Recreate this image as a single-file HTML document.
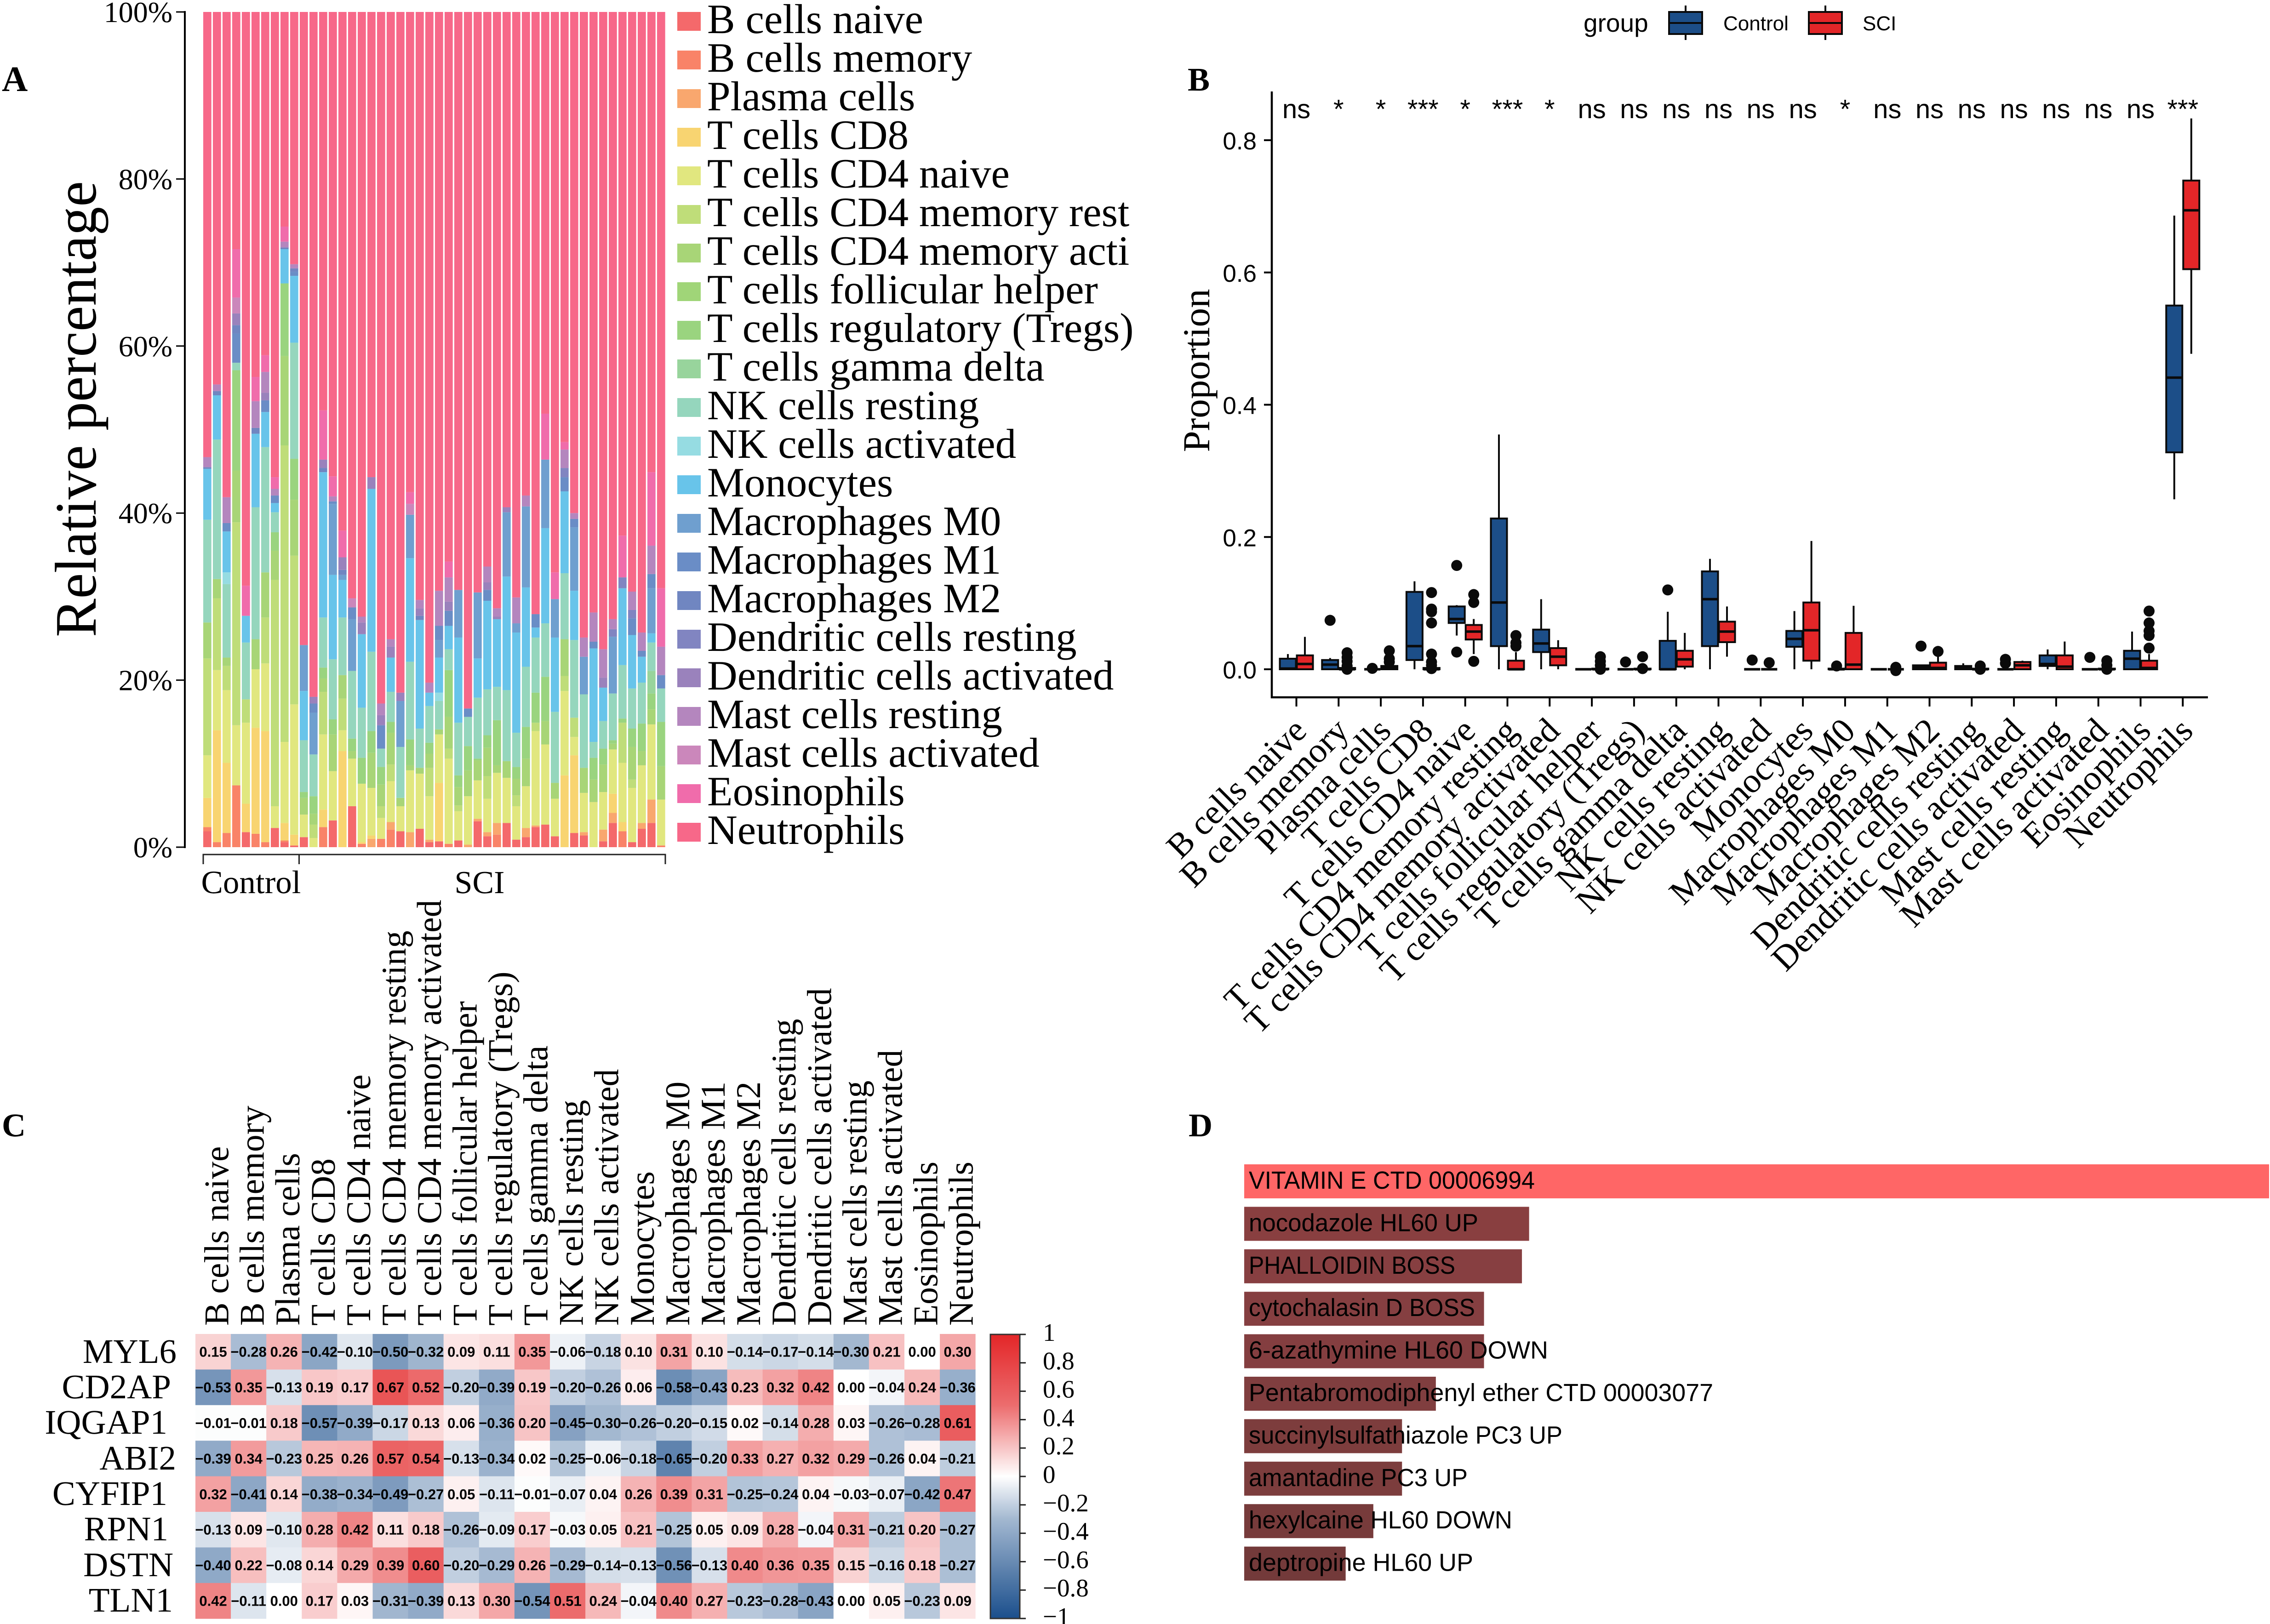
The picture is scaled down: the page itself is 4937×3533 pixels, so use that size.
<!DOCTYPE html>
<html lang="en">
<head>
<meta charset="utf-8">
<title>Immune infiltration figure</title>
<style>
html,body{margin:0;padding:0;background:#fff;width:4937px;height:3533px;overflow:hidden}
svg{position:absolute;left:0;top:0;display:block}
.serif{font-family:"Liberation Serif",serif}
.sans{font-family:"Liberation Sans",sans-serif}
text{fill:#000;text-rendering:geometricPrecision}
</style>
</head>
<body>
<svg id="fig" xmlns="http://www.w3.org/2000/svg" width="4937" height="3533" viewBox="0 0 4937 3533">
  <rect x="0" y="0" width="4937" height="3533" fill="#fff"/>

  <text class="serif" font-weight="bold" font-size="78" x="4" y="198">A</text>
  <text class="serif" font-weight="bold" font-size="72" x="2583" y="197">B</text>
  <text class="serif" font-weight="bold" font-size="72" x="4" y="2472">C</text>
  <text class="serif" font-weight="bold" font-size="72" x="2585" y="2472">D</text>

  <g id="panelA">
    <text class="serif" font-size="128" transform="translate(208,890) rotate(-90)" text-anchor="middle" textLength="992" lengthAdjust="spacingAndGlyphs">Relative percentage</text>
    <text class="serif" font-size="71" x="546" y="1943" text-anchor="middle">Control</text>
    <text class="serif" font-size="70" x="1043" y="1943" text-anchor="middle">SCI</text>
  </g>

  <g id="panelB">
    <text class="serif" font-size="83" transform="translate(2630,806) rotate(-90)" text-anchor="middle">Proportion</text>
    <text class="sans" font-size="55" x="3444" y="69">group</text>
    <text class="sans" font-size="44" x="3748" y="66">Control</text>
    <text class="sans" font-size="44" x="4051" y="66">SCI</text>
    <g stroke="#0a0a0a" stroke-width="4">
      <line x1="3666" x2="3666" y1="12" y2="87"/>
      <rect x="3630" y="26" width="72" height="48" fill="#1c4e88"/>
      <line x1="3630" x2="3702" y1="50" y2="50"/>
    </g>
    <g stroke="#0a0a0a" stroke-width="4">
      <line x1="3970" x2="3970" y1="12" y2="87"/>
      <rect x="3934" y="26" width="72" height="48" fill="#e32628"/>
      <line x1="3934" x2="4006" y1="50" y2="50"/>
    </g>
  </g>

  <g id="panelC">
    <g class="serif" font-size="75" text-anchor="end">
      <text x="384" y="2965">MYL6</text>
      <text x="372" y="3042">CD2AP</text>
      <text x="364" y="3119">IQGAP1</text>
      <text x="383" y="3197">ABI2</text>
      <text x="364" y="3274">CYFIP1</text>
      <text x="366" y="3351">RPN1</text>
      <text x="377" y="3429">DSTN</text>
      <text x="376" y="3506">TLN1</text>
    </g>
  </g>

  <g id="panelD"></g>
</svg>

<script>
/* ---------- shared category names ---------- */
const legendNames = ["B cells naive","B cells memory","Plasma cells","T cells CD8","T cells CD4 naive","T cells CD4 memory rest","T cells CD4 memory acti","T cells follicular helper","T cells regulatory (Tregs)","T cells gamma delta","NK cells resting","NK cells activated","Monocytes","Macrophages M0","Macrophages M1","Macrophages M2","Dendritic cells resting","Dendritic cells activated","Mast cells resting","Mast cells activated","Eosinophils","Neutrophils"];
const cellTypes = ["B cells naive","B cells memory","Plasma cells","T cells CD8","T cells CD4 naive","T cells CD4 memory resting","T cells CD4 memory activated","T cells follicular helper","T cells regulatory (Tregs)","T cells gamma delta","NK cells resting","NK cells activated","Monocytes","Macrophages M0","Macrophages M1","Macrophages M2","Dendritic cells resting","Dendritic cells activated","Mast cells resting","Mast cells activated","Eosinophils","Neutrophils"];
const stackColors = ["#f4696b","#f98368","#f9a76e","#f8d471","#e1e77f","#bfdd79","#a8d577","#a0d578","#9ad47f","#98d49c","#95d6bd","#96dce2","#68c4ea","#6f9fcf","#6a8dc6","#7086c1","#8185c1","#9a82bc","#b486be","#cb87bb","#f06cab","#f76889"];

/* ---------- panel A data: pairs of (cell type index, cumulative percent at segment top), one row per sample ---------- */
const controlSampleCount = 10;
const percentTicks = [0,20,40,60,80,100];
const sampleStacks = [
[0,1.9,1,2.4,3,5.9,4,11,5,22.6,6,26.9,10,39.2,12,45.3,15,45.5,18,46.7,21,100],
[1,.6,3,14,4,21.2,5,29.8,6,32.1,10,48.8,12,54.1,15,54.6,18,55.4,21,100],
[1,1.7,3,10.1,4,18.8,5,21.7,6,22.7,10,31.5,11,32.9,12,37.8,14,38.8,18,41.9,21,100],
[1,7.4,4,14.6,5,38.9,6,45.1,8,57.1,10,58,14,61.5,15,62.5,17,63.9,19,65.8,20,71.6,21,100],
[0,1.8,3,5.2,4,14.9,5,17.7,10,24.5,12,27.7,20,31.3,21,100],
[1,1.6,3,14.3,4,21.3,6,24.9,10,40.7,12,49.5,15,50.2,18,53.4,20,56.3,21,100],
[1,.6,3,13.9,4,22,5,27.5,6,32.9,10,47.9,12,52.1,14,53.5,17,54.4,18,56.9,20,58.9,21,100],
[0,2.3,4,4.9,5,32,6,35.5,8,37.7,10,40.1,12,41.2,14,42.1,18,42.9,20,44.3,21,100],
[0,.6,1,.8,3,2.9,4,12.6,5,48.1,6,58.8,8,67.5,12,71.6,15,71.8,18,72.5,20,74.3,21,100],
[0,.2,3,1.5,4,17.1,5,34.9,6,41.6,8,46.5,10,60.4,12,68.4,14,68.9,15,69.3,18,69.8,21,100],
[0,1.2,4,3.9,6,5.9,8,6.6,10,12.8,12,18.7,13,24.2,21,100],
[4,1.1,5,2.7,6,4,8,6.1,10,11.1,13,16.1,14,17.2,17,18,21,100],
[1,2.4,3,4.5,4,13.5,5,18.6,6,20.2,8,21.5,10,27.5,12,44.9,15,45.4,17,46.4,20,52.3,21,100],
[0,3.2,4,9.1,6,13.5,8,15.3,10,22.5,12,32.6,13,41.1,14,41.4,18,42,20,44.4,21,100],
[3,11.5,4,14,5,17.8,6,20.6,10,27.5,12,32,13,32.6,15,33.2,17,34.7,20,37.9,21,100],
[0,4.9,4,10.6,6,11.5,8,13,10,21.1,13,27.3,14,28.7,19,29.8,21,100],
[1,.4,3,.6,4,7.6,8,10.7,10,16.7,12,25.5,17,26.9,18,27.6,21,100],
[2,1,3,1.4,4,7.1,6,11.3,8,13.9,10,23.4,12,42.9,17,44.3,21,100],
[1,1,4,3.5,5,4.9,6,7.5,8,9.6,10,11.8,14,14.6,17,15.8,18,17.2,21,100],
[1,2.1,2,3,4,7.9,5,9.9,6,13.7,8,15,10,18.6,12,22.7,17,24,18,24.9,21,100],
[0,1.9,4,4.9,6,5.9,10,12,13,17.5,17,18.5,21,100],
[2,1.8,4,9.2,6,9.8,8,12.9,10,22.2,12,34.6,13,39.8,19,41.1,20,42.5,21,100],
[0,2.2,4,8.8,6,9.5,10,14.2,12,27.2,15,27.7,17,28.6,18,29.6,21,100],
[0,.6,2,.9,4,6.1,5,9.5,6,11.2,8,12.5,10,16.9,12,18.5,18,19.7,21,100],
[0,.7,3,7.7,4,13.5,6,14.1,10,17.5,11,18.5,12,22.7,13,24.8,14,26.5,18,30.7,21,100],
[1,.4,4,10.6,5,11.8,6,15.6,8,21.2,10,23.7,12,26.5,14,28.3,17,29.4,18,32.3,20,34.2,21,100],
[0,.8,4,4.3,5,5,6,7.2,8,8.6,10,14.9,12,25.1,13,30.8,21,100],
[2,.3,4,6.1,6,9.2,8,12.1,10,15.6,14,16.6,21,100],
[0,3.1,2,3.4,4,8,6,10.4,8,10.6,10,17.9,12,22.6,13,30.5,21,100],
[0,1.3,2,1.8,4,5.8,5,8.5,6,11.9,8,13.4,10,18.9,12,29.5,14,30.8,17,31.7,18,33.6,21,100],
[1,1.5,2,2.9,4,8.9,6,9.8,8,15.2,10,19.2,12,27.3,17,27.6,18,28.6,21,100],
[0,2.9,4,8.3,6,10.3,10,18.8,12,32.4,13,40.1,17,40.7,21,100],
[0,.9,4,4.9,5,6.2,6,8.2,8,9.6,10,13.7,12,25.7,13,26.8,18,29.9,21,100],
[0,1.2,2,2.3,4,7.3,6,10.6,8,14.4,10,21.6,12,31.1,13,40.8,18,42.1,21,100],
[0,2.4,2,2.6,4,13.9,5,14.9,8,18.5,10,25.1,12,26.3,14,27.9,21,100],
[0,2.7,4,12.3,6,15.1,8,20.4,10,26.8,12,38.2,13,46.4,20,51.9,21,100],
[0,1.3,4,5.8,6,7.7,10,16.2,12,25.1,13,29.7,20,32.9,21,100],
[3,8.6,4,18.7,5,20.5,6,24.9,10,32.8,12,42.6,14,44.3,16,45.4,18,47.6,20,48.5,21,100],
[0,1.7,3,11,4,13.2,5,15.5,10,24.8,12,30.7,13,38.3,14,39.3,18,40,21,100],
[0,1.4,2,1.8,4,6.5,6,9.5,10,18.3,13,22.8,18,25.1,21,100],
[4,5.4,6,8.1,8,10.7,10,12.6,12,23.8,14,24.6,18,28.1,21,100],
[0,.7,2,2.1,4,6.6,6,9.9,8,11.8,10,15.1,12,19.1,17,20.3,18,23.7,21,100],
[0,2.9,2,4.1,3,6.4,4,11.7,6,12.4,8,12.8,10,18.4,13,25.2,16,26.1,18,27.3,21,100],
[1,1.9,3,3,4,10.1,5,14.9,8,15.4,10,21.8,12,31,16,32.3,20,37.3,21,100],
[0,.6,4,7.1,5,8.1,6,12,8,14.2,10,19,12,25.4,14,27.4,16,28.4,18,30.6,21,100],
[0,2.2,2,2.9,4,9.8,6,11.5,8,14.8,10,19.7,12,22.8,14,23.5,18,25.7,21,100],
[0,2.9,2,5.7,4,14.7,6,16.5,8,18.4,9,21.1,10,24.5,12,25.6,13,31,14,32.7,18,36.1,20,44.9,21,100],
[1,.2,4,5.7,6,9.7,8,15,10,19,14,20.6,18,24,20,31,21,100]
];

/* ---------- panel B data: [lower whisker, q1, median, q3, upper whisker] per cell type ---------- */
const controlBoxes = [
[0,0,.001,.016,.023],[0,0,.007,.014,.017],[0,0,0,0,0],[0,.014,.035,.117,.133],[.051,.07,.076,.095,.097],[0,.035,.101,.228,.355],[0,.026,.039,.06,.106],[0,0,0,0,0],[0,0,0,0,0],[0,0,0,.043,.087],[0,.035,.106,.148,.167],[0,0,0,0,0],[0,.034,.046,.058,.088],[0,0,0,.001,.001],[0,0,0,0,0],[0,0,.003,.006,.006],[0,0,.003,.005,.009],[0,0,0,0,0],[0,.005,.008,.021,.03],[0,0,0,0,0],[0,0,.016,.028,.057],[.257,.328,.441,.55,.686]
];
const sciBoxes = [
[0,0,.008,.021,.049],[0,0,0,.002,.002],[0,0,.002,.005,.005],[0,0,0,.002,.002],[.023,.045,.057,.067,.076],[0,0,0,.013,.026],[0,.006,.019,.032,.044],[0,0,0,.001,.001],[0,0,0,.001,.001],[0,.004,.015,.028,.055],[.019,.041,.057,.072,.095],[0,0,0,0,0],[0,.013,.059,.101,.194],[0,0,.007,.055,.096],[0,0,0,0,0],[0,0,.002,.01,.019],[0,0,0,.001,.001],[0,0,.006,.011,.013],[0,0,.004,.021,.042],[0,0,0,.001,.001],[0,0,.002,.013,.023],[.477,.605,.694,.739,.833]
];
const controlOutliers = [[],[.074],[.0014],[],[.157,.026],[],[],[],[.011],[.12],[],[.014],[],[.005],[],[.035],[],[.015,.009],[],[.018],[],[]];
const sciOutliers = [[],[.025,.018,.012,.005,0],[.028,.016,.011],[.116,.091,.087,.07,.023,.011,.006,.001],[.113,.101,.012],[.051,.035,.04],[],[.019,.012,.006,0],[.019,.001],[],[],[.01],[],[],[.003,-.002],[.027],[.005,0],[],[],[.013,.006,0],[.088,.07,.058,.051,.032],[]];
const significance = ["ns","*","*","***","*","***","*","ns","ns","ns","ns","ns","ns","*","ns","ns","ns","ns","ns","ns","ns","***"];
const proportionTicks = [0,.2,.4,.6,.8];

/* ---------- panel C data ---------- */
const heatmapRows = ["MYL6","CD2AP","IQGAP1","ABI2","CYFIP1","RPN1","DSTN","TLN1"];
const correlationMatrix = [
[0.15,-0.28,0.26,-0.42,-0.10,-0.50,-0.32,0.09,0.11,0.35,-0.06,-0.18,0.10,0.31,0.10,-0.14,-0.17,-0.14,-0.30,0.21,0.00,0.30],
[-0.53,0.35,-0.13,0.19,0.17,0.67,0.52,-0.20,-0.39,0.19,-0.20,-0.26,0.06,-0.58,-0.43,0.23,0.32,0.42,0.00,-0.04,0.24,-0.36],
[-0.01,-0.01,0.18,-0.57,-0.39,-0.17,0.13,0.06,-0.36,0.20,-0.45,-0.30,-0.26,-0.20,-0.15,0.02,-0.14,0.28,0.03,-0.26,-0.28,0.61],
[-0.39,0.34,-0.23,0.25,0.26,0.57,0.54,-0.13,-0.34,0.02,-0.25,-0.06,-0.18,-0.65,-0.20,0.33,0.27,0.32,0.29,-0.26,0.04,-0.21],
[0.32,-0.41,0.14,-0.38,-0.34,-0.49,-0.27,0.05,-0.11,-0.01,-0.07,0.04,0.26,0.39,0.31,-0.25,-0.24,0.04,-0.03,-0.07,-0.42,0.47],
[-0.13,0.09,-0.10,0.28,0.42,0.11,0.18,-0.26,-0.09,0.17,-0.03,0.05,0.21,-0.25,0.05,0.09,0.28,-0.04,0.31,-0.21,0.20,-0.27],
[-0.40,0.22,-0.08,0.14,0.29,0.39,0.60,-0.20,-0.29,0.26,-0.29,-0.14,-0.13,-0.56,-0.13,0.40,0.36,0.35,0.15,-0.16,0.18,-0.27],
[0.42,-0.11,0.00,0.17,0.03,-0.31,-0.39,0.13,0.30,-0.54,0.51,0.24,-0.04,0.40,0.27,-0.23,-0.28,-0.43,0.00,0.05,-0.23,0.09]
];
const colorbarTicks = [1,.8,.6,.4,.2,0,-.2,-.4,-.6,-.8,-1];

/* ---------- panel D data ---------- */
const enrichmentTerms = ["VITAMIN E CTD 00006994","nocodazole HL60 UP","PHALLOIDIN BOSS","cytochalasin D BOSS","6-azathymine HL60 DOWN","Pentabromodiphenyl ether CTD 00003077","succinylsulfathiazole PC3 UP","amantadine PC3 UP","hexylcaine HL60 DOWN","deptropine HL60 UP"];
const enrichmentScores = [1,.278,.271,.234,.234,.187,.154,.154,.126,.099];
const enrichmentColors = ["#ff6666","#893f40","#873f41","#853f41","#843e40","#803e3f","#7d3d3d","#7c3d3d","#773b3b","#733a3a"];
const enrichmentLabelLengths = [622,499,449,492,651,1010,682,476,573,488];

/* ---------- helpers ---------- */
const NS = "http://www.w3.org/2000/svg";
function make(parent, tag, attrs, txt){
  const n = document.createElementNS(NS, tag);
  for (const k in attrs) n.setAttribute(k, attrs[k]);
  if (txt !== undefined) n.textContent = txt;
  parent.appendChild(n);
  return n;
}
const fmtSigned = v => (v < 0 ? "\u2212" : "") + Math.abs(v).toFixed(2);
const fmtTick = v => (v < 0 ? "\u2212" : "") + String(Math.abs(v));

/* ---------- panel A ---------- */
const gA = document.getElementById("panelA");
const xA = i => 442 + 21 * i;
const yA = p => 1843 - p * 18.17;
const barW = 17.7;

sampleStacks.forEach((row, s) => {
  let prev = 0;
  for (let k = 0; k < row.length; k += 2) {
    const top = row[k + 1];
    const seg = make(gA, "rect", {x: xA(s), y: yA(top), width: barW, height: Math.max(0, yA(prev) - yA(top)), fill: stackColors[row[k]]});
    
    
    prev = top;
  }
});

const axisA = make(gA, "line", {x1: 402, x2: 402, y1: yA(100) - 2, y2: yA(0) + 2, stroke: "#000", "stroke-width": 4});


percentTicks.forEach(p => {
  const t = make(gA, "line", {x1: 383, x2: 402, y1: yA(p), y2: yA(p), stroke: "#000", "stroke-width": 3});
  
  
  const l = make(gA, "text", {x: 375, y: yA(p) + 22, "text-anchor": "end", "font-size": 64, class: "serif"}, p + "%");
  
  
});

const groupEdges = [xA(0), xA(controlSampleCount) - 1.5, xA(sampleStacks.length) - 3];
[[groupEdges[0], groupEdges[1]], [groupEdges[1], groupEdges[2]]].forEach(pair => {
  const b = make(gA, "path", {d: `M${pair[0]} 1880V1859H${pair[1]}V1880`, fill: "none", stroke: "#222", "stroke-width": 3});
  
  
});

legendNames.forEach((name, i) => {
  const sw = make(gA, "rect", {x: 1473, y: 26 + i * 84, width: 51, height: 41, fill: stackColors[i]});
  
  
  const tx = make(gA, "text", {x: 1538, y: 72 + i * 84, "font-size": 91, class: "serif"}, name);
  
  
});

/* ---------- panel B ---------- */
const gB = document.getElementById("panelB");
const xB = i => 2819.5 + i * 91.8;
const yB = v => 1456 - v * 1438.7;
const INK = "#0a0a0a";

const axisBY = make(gB, "line", {x1: 2766, x2: 2766, y1: 199, y2: 1519, stroke: "#000", "stroke-width": 4.5});


const axisBX = make(gB, "line", {x1: 2764, x2: 4802, y1: 1517, y2: 1517, stroke: "#000", "stroke-width": 4.5});



proportionTicks.forEach(v => {
  const t = make(gB, "line", {x1: 2749, x2: 2766, y1: yB(v), y2: yB(v), stroke: "#000", "stroke-width": 4});
  
  
  const l = make(gB, "text", {x: 2733, y: yB(v) + 20, "text-anchor": "end", "font-size": 53, class: "sans"}, v.toFixed(1));
  
  
});

function drawBox(cx, stats, outliers, fill) {
  const [lo, q1, med, q3, hi] = stats;
  const g = make(gB, "g", {});
  
  
  make(g, "line", {x1: cx, x2: cx, y1: yB(lo), y2: yB(hi), stroke: INK, "stroke-width": 4});
  make(g, "rect", {x: cx - 17.5, y: yB(q3), width: 35, height: Math.max(0, yB(q1) - yB(q3)), fill: fill, stroke: INK, "stroke-width": 4});
  make(g, "line", {x1: cx - 17.5, x2: cx + 17.5, y1: yB(med), y2: yB(med), stroke: INK, "stroke-width": 5.5});
  outliers.forEach(v => {
    const d = make(g, "circle", {cx: cx, cy: yB(v), r: 12, fill: INK});
    
    
  });
}

cellTypes.forEach((name, i) => {
  const tx = xB(i);
  const t = make(gB, "line", {x1: tx, x2: tx, y1: 1517, y2: 1537, stroke: "#000", "stroke-width": 4});
  
  
  const l = make(gB, "text", {transform: `translate(${tx + 26},1594) rotate(-45)`, "text-anchor": "end", "font-size": 76, class: "serif"}, name);
  
  
  const s = make(gB, "text", {x: tx, y: 257, "text-anchor": "middle", "font-size": 58, class: "sans"}, significance[i]);
  
  
  drawBox(tx - 18.5, controlBoxes[i], controlOutliers[i], "#1c4e88");
  drawBox(tx + 18.5, sciBoxes[i], sciOutliers[i], "#e32628");
});

/* ---------- panel C ---------- */
const gC = document.getElementById("panelC");
const xC = j => 425 + 77.1 * j;
const yC = i => 2902 + 77.4 * i;
const cellW = 77.1, cellH = 77.4;
const yBar = v => 3212 - v * 309;

function corrColor(v) {
  const t = Math.abs(v);
  let f, end;
  if (v >= 0) {
    f = t <= .5 ? 1.35 * t : .675 + (t - .5) * .65;
    end = [227, 38, 40];
  } else {
    f = t <= .3 ? 1.35 * t : .405 + (t - .3) * .85;
    end = [27, 79, 140];
  }
  const c = end.map(e => Math.round(255 + (e - 255) * f));
  return `rgb(${c[0]},${c[1]},${c[2]})`;
}

correlationMatrix.forEach((row, i) => {
  row.forEach((v, j) => {
    const c = make(gC, "rect", {x: xC(j), y: yC(i), width: cellW + .5, height: cellH + .5, fill: corrColor(v)});
    
    
  });
});
correlationMatrix.forEach((row, i) => {
  row.forEach((v, j) => {
    const l = make(gC, "text", {x: xC(j) + cellW / 2, y: yC(i) + cellH / 2 + 11, "text-anchor": "middle", "font-size": 31, "font-weight": "bold", class: "sans"}, fmtSigned(v));
    
    
  });
});
cellTypes.forEach((name, j) => {
  const l = make(gC, "text", {transform: `translate(${xC(j) + cellW / 2 + 33},2884) rotate(-90)`, "font-size": 75.6, class: "serif"}, name);
  
  
});

const defs = make(document.getElementById("fig"), "defs", {});
const grad = make(defs, "linearGradient", {id: "cbGrad", x1: 0, x2: 0, y1: 0, y2: 1});
for (let s = 0; s <= 40; s++) {
  make(grad, "stop", {offset: s / 40, "stop-color": corrColor(1 - s / 20)});
}
const cb = make(gC, "rect", {x: 2154, y: yBar(1), width: 64, height: yBar(-1) - yBar(1), fill: "url(#cbGrad)", stroke: "#333", "stroke-width": 3});


colorbarTicks.forEach(v => {
  const t = make(gC, "line", {x1: 2218, x2: 2231, y1: yBar(v), y2: yBar(v), stroke: "#222", "stroke-width": 3});
  
  
  const l = make(gC, "text", {x: 2268, y: yBar(v) + 14, "font-size": 55, class: "serif"}, fmtTick(v));
  
  
});

/* ---------- panel D ---------- */
const gD = document.getElementById("panelD");
const xD = s => 2706 + s * 2229;
const yD = i => 2533 + i * 92.4;
enrichmentTerms.forEach((term, i) => {
  const r = make(gD, "rect", {x: xD(0), y: yD(i), width: xD(enrichmentScores[i]) - xD(0), height: 74, fill: enrichmentColors[i]});
  
  
  const l = make(gD, "text", {x: 2716, y: yD(i) + 53, "font-size": 54, class: "sans", textLength: enrichmentLabelLengths[i], lengthAdjust: "spacingAndGlyphs"}, term);
  
  
});
</script>
</body>
</html>
